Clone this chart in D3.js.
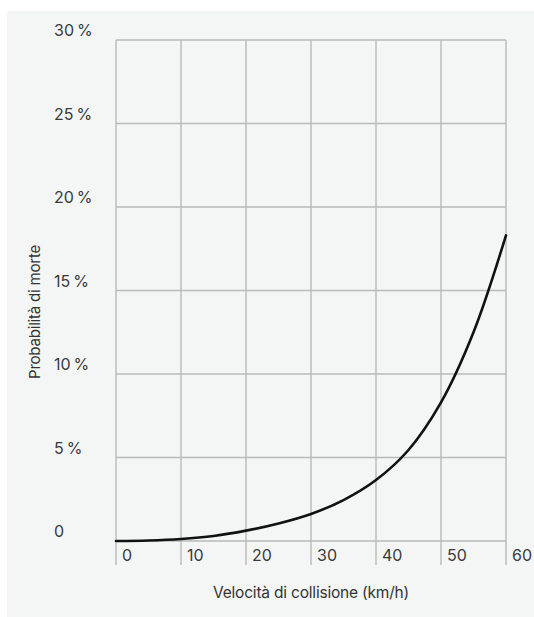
<!DOCTYPE html>
<html><head><meta charset="utf-8">
<script src="https://cdn.jsdelivr.net/npm/d3@7"></script>
<style>html,body{margin:0;padding:0;background:#fff;}svg{display:block;}</style>
</head><body>
<script>
const speeds = [0, 5, 10, 15, 20, 25, 30, 35, 40, 45, 50, 55, 60];
const deathProb = [0, 0.03, 0.12, 0.3, 0.62, 1.05, 1.62, 2.45, 3.65, 5.45, 8.3, 12.5, 18.3];
const xTicks = [0, 10, 20, 30, 40, 50, 60];
const yTicks = [0, 5, 10, 15, 20, 25, 30];
const yTickLabels = ["0", "5\u2009%", "10\u2009%", "15\u2009%", "20\u2009%", "25\u2009%", "30\u2009%"];
const xTitle = "Velocità di collisione (km/h)";
const yTitle = "Probabilità di morte";

const W = 534, H = 617;
const svg = d3.select("body").append("svg").attr("width", W).attr("height", H);
svg.append("rect").attr("x", 7).attr("y", 11).attr("width", W - 7).attr("height", H - 11).attr("fill", "#f3f6f5");

const x = d3.scaleLinear().domain([0, 60]).range([116, 506]);
const y = d3.scaleLinear().domain([0, 30]).range([541, 40]);
const font = "Inter, 'Open Sans', sans-serif";
const grid = "#b8baba";

svg.append("g").selectAll("line").data(yTicks).join("line")
  .attr("x1", x(0)).attr("x2", x(60))
  .attr("y1", d => y(d)).attr("y2", d => y(d))
  .attr("stroke", grid).attr("stroke-width", 1.4);
svg.append("g").selectAll("line").data(xTicks).join("line")
  .attr("x1", d => x(d)).attr("x2", d => x(d))
  .attr("y1", y(30)).attr("y2", y(0) + 24)
  .attr("stroke", grid).attr("stroke-width", 1.4);

svg.append("g").selectAll("text").data(xTicks).join("text")
  .attr("x", d => x(d) + 6).attr("y", y(0) + 20)
  .attr("font-family", font).attr("font-size", 16).attr("fill", "#3a3a3a")
  .text(d => d);
svg.append("g").selectAll("text").data(yTicks).join("text")
  .attr("x", 54).attr("y", d => y(d) - 4)
  .attr("font-family", font).attr("font-size", 16).attr("fill", "#3a3a3a")
  .text((d, i) => yTickLabels[i]);

const pts = speeds.map((s, i) => [s, deathProb[i]]);
svg.append("path").datum(pts)
  .attr("d", d3.line().x(d => x(d[0])).y(d => y(d[1])).curve(d3.curveCatmullRom.alpha(0.5)))
  .attr("fill", "none").attr("stroke", "#111").attr("stroke-width", 2.6).attr("stroke-linecap", "round");

svg.append("text").attr("x", 311).attr("y", 598).attr("text-anchor", "middle")
  .attr("font-family", font).attr("font-size", 15.5).attr("fill", "#333").attr("letter-spacing", -0.2)
  .text(xTitle);
svg.append("text").attr("transform", "translate(40,312) rotate(-90)").attr("text-anchor", "middle")
  .attr("font-family", font).attr("font-size", 15).attr("fill", "#333").attr("letter-spacing", -0.2)
  .text(yTitle);
</script>
</body></html>
